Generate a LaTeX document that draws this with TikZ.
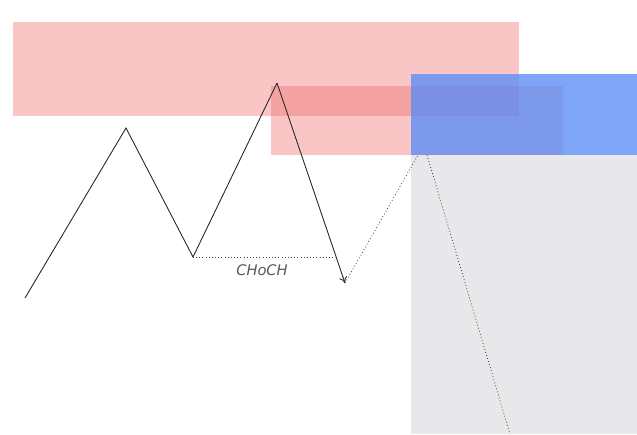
\documentclass[tikz,border=0pt]{standalone}
\usepackage{fontspec}
\newfontfamily\labelfont{DejaVu Sans}
\usepackage{xcolor}
\usepackage{tikz}
\usetikzlibrary{positioning,arrows.meta}

\definecolor{zonered}{RGB}{240,110,110}
\definecolor{zoneblue}{RGB}{90,140,245}
\definecolor{zonegray}{RGB}{232,232,234}

\begin{document}
\begin{tikzpicture}[x=0.03cm, y=-0.03cm, redzone/.style={fill=zonered, fill opacity=0.4}, bluezone/.style={fill=zoneblue, fill opacity=0.78}, swing/.style={line width=0.75pt, black!85}, proj/.style={dotted, line width=0.7pt, black!75}, lbl/.style={font=\labelfont\itshape\fontsize{12.5}{14}\selectfont, text=black!65, inner sep=0pt}]
\useasboundingbox (0,0) rectangle (637,434);
\fill[zonegray] (411,155) rectangle (637,434);
\fill[redzone] (13,22) rectangle (519,116);
\fill[redzone] (271,86) rectangle (563,155);
\fill[bluezone] (411,74) rectangle (637,155);
\coordinate (start) at (25,298); \coordinate (hi1) at (126,128); \coordinate (lo1) at (193,257);
\coordinate (hi2) at (277,83); \coordinate (lo2) at (345,283); \coordinate (brk) at (333,257);
\coordinate (tap) at (418,155); \coordinate (rej) at (427,155); \coordinate (tgt) at (510,434);
\draw[swing] (start)--(hi1)--(lo1)--(hi2); \draw[swing, -{To[length=1.8mm, width=2.4mm]}] (hi2)--(lo2);
\draw[proj] (lo1)--(brk); \draw[proj] (lo2)--(tap); \draw[proj] (rej)--(tgt);
\node[lbl] (choch) at (262,270) {CHoCH};
\end{tikzpicture}
\end{document}
